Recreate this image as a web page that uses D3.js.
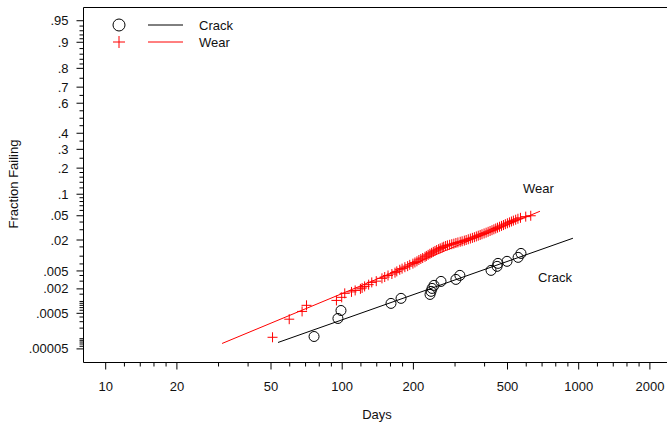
<!DOCTYPE html>
<html>
<head>
<meta charset="utf-8">
<script src="https://cdn.jsdelivr.net/npm/d3@7"></script>
<style>
  body { margin: 0; background: #fff; }
  svg { display: block; font-family: "Liberation Sans", Arial, sans-serif; }
  text { fill: #111; font-size: 13px; }
</style>
</head>
<body>
<svg id="chart" width="667" height="423"></svg>
<script>
// crack failures: [days, fraction failing]
const crackPoints = [
  [76.4, 0.000116], [96.4, 0.000366], [99.3, 0.000592], [161.6, 0.000895],
  [178.2, 0.00119], [236.3, 0.00148], [238.7, 0.00175], [241, 0.00205],
  [245.7, 0.00241], [263, 0.00296], [304, 0.00328], [316, 0.00402],
  [428, 0.00514], [454, 0.00624], [458, 0.00718], [500, 0.0079],
  [557, 0.00947], [573, 0.0113]
];

// wear failures: [days, fraction failing]
const wearPoints = [
  [51, 0.00011], [60, 0.00035], [68, 0.00056], [71, 0.0008], [95, 0.00106],
  [100, 0.00126], [103, 0.00157], [110, 0.0017], [114, 0.00184], [120, 0.002],
  [122, 0.0021], [125, 0.00228], [130, 0.0025], [134, 0.00281], [140, 0.003],
  [148, 0.00346], [152, 0.0037], [157, 0.004], [163, 0.0043], [168, 0.0046],
  [171, 0.0049], [176, 0.0053], [180, 0.0056], [185, 0.006], [190, 0.0063],
  [194, 0.0067], [200, 0.0071], [204, 0.0075], [208, 0.0079], [212, 0.0084],
  [216, 0.0088], [220, 0.0092], [225, 0.0097], [228, 0.0101], [232, 0.0106],
  [236, 0.0111], [240, 0.0116], [244, 0.0121], [248, 0.0126], [252, 0.0131],
  [257, 0.0136], [261, 0.0141], [266, 0.0146], [270, 0.0151], [275, 0.0156],
  [280, 0.016], [286, 0.0164], [292, 0.0168], [298, 0.0172], [304, 0.0177],
  [310, 0.0181], [317, 0.0186], [323, 0.019], [330, 0.0195], [336, 0.02],
  [343, 0.0206], [350, 0.0212], [357, 0.0218], [364, 0.0224], [371, 0.0231],
  [378, 0.0238], [385, 0.0245], [392, 0.0252], [400, 0.026], [408, 0.0268],
  [416, 0.0277], [424, 0.0286], [432, 0.0295], [440, 0.0305], [448, 0.0315],
  [456, 0.0325], [465, 0.0336], [474, 0.0347], [483, 0.0358], [492, 0.037],
  [502, 0.0382], [512, 0.0395], [522, 0.0408], [532, 0.0421], [544, 0.0435],
  [556, 0.045], [570, 0.0465], [600, 0.0485], [630, 0.05]
];

// fitted lognormal lines (end points)
const crackFit = [[53.8, 0.0000777], [950, 0.0215]];
const wearFit = [[31.2, 0.0000726], [689, 0.0583]];

const xTickValues = [10, 20, 50, 100, 200, 500, 1000, 2000];
const xMinorTicks = [12, 14, 16, 18, 30, 40, 60, 70, 80, 90, 120, 140, 160, 180,
  300, 400, 600, 700, 800, 900, 1200, 1400, 1600, 1800];

const yTickValues = [0.95, 0.9, 0.8, 0.7, 0.6, 0.4, 0.3, 0.2, 0.1, 0.05, 0.02,
  0.005, 0.002, 0.0005, 0.00005];
const yTickLabels = [".95", ".9", ".8", ".7", ".6", ".4", ".3", ".2", ".1", ".05", ".02",
  ".005", ".002", ".0005", ".00005"];
const yMinorTicks = [0.94, 0.93, 0.92, 0.91, 0.88, 0.86, 0.84, 0.82, 0.75, 0.65, 0.55,
  0.5, 0.45, 0.35, 0.25, 0.18, 0.16, 0.14, 0.12, 0.09, 0.08, 0.07, 0.06, 0.04, 0.03,
  0.015, 0.01, 0.007, 0.004, 0.003, 0.0015, 0.001, 0.0009, 0.0008, 0.0007, 0.0006,
  0.0004, 0.0003, 0.0002, 0.0001, 0.00009, 0.00008, 0.00007, 0.00006];

// inverse normal cdf (Acklam) for the probability axis
function probit(p) {
  const a = [-3.969683028665376e+01, 2.209460984245205e+02, -2.759285104469687e+02, 1.383577518672690e+02, -3.066479806614716e+01, 2.506628277459239e+00];
  const b = [-5.447609879822406e+01, 1.615858368580409e+02, -1.556989798598866e+02, 6.680131188771972e+01, -1.328068155288572e+01];
  const c = [-7.784894002430293e-03, -3.223964580411365e-01, -2.400758277161838e+00, -2.549671660199838e+00, 4.374664141464968e+00, 2.938163982698783e+00];
  const d = [7.784695709041462e-03, 3.224671290700398e-01, 2.445134137142996e+00, 3.754408661907416e+00];
  const pl = 0.02425;
  let q, r;
  if (p < pl) {
    q = Math.sqrt(-2 * Math.log(p));
    return (((((c[0]*q+c[1])*q+c[2])*q+c[3])*q+c[4])*q+c[5]) / ((((d[0]*q+d[1])*q+d[2])*q+d[3])*q+1);
  }
  if (p > 1 - pl) {
    q = Math.sqrt(-2 * Math.log(1 - p));
    return -(((((c[0]*q+c[1])*q+c[2])*q+c[3])*q+c[4])*q+c[5]) / ((((d[0]*q+d[1])*q+d[2])*q+d[3])*q+1);
  }
  q = p - 0.5; r = q * q;
  return (((((a[0]*r+a[1])*r+a[2])*r+a[3])*r+a[4])*r+a[5])*q / (((((b[0]*r+b[1])*r+b[2])*r+b[3])*r+b[4])*r+1);
}

const svg = d3.select("#chart");
const mLeft = 83.5, mTop = 7.5, mBottom = 362.5, mRight = 667;

const x = d3.scaleLog().domain([10, 1000]).range([105.2, 578.2]);
const zScale = d3.scaleLinear().domain([1.868, -4.12]).range([mTop, mBottom]);
const y = p => zScale(probit(p));

// frame
svg.append("path")
  .attr("d", `M${mRight},${mTop}H${mLeft}V${mBottom}H${mRight}`)
  .attr("fill", "none").attr("stroke", "#000");

// x axis
const xAxisG = svg.append("g").attr("transform", `translate(0,${mBottom})`);
xAxisG.call(d3.axisBottom(x).tickValues(xTickValues).tickSize(7).tickPadding(12)
  .tickFormat(d3.format("d")));
xAxisG.append("g").call(d3.axisBottom(x).tickValues(xMinorTicks).tickSize(4).tickFormat(""));
xAxisG.selectAll(".domain").remove();
xAxisG.selectAll("text").attr("font-size", 13).attr("fill", "#111")
  .attr("font-family", "Liberation Sans, Arial, sans-serif");

// y axis (probability scale)
const yAxisG = svg.append("g").attr("transform", `translate(${mLeft},0)`);
const yLabelMap = new Map(yTickValues.map((v, i) => [v, yTickLabels[i]]));
yAxisG.selectAll(".major").data(yTickValues).join("line").attr("class", "major")
  .attr("x1", -7).attr("x2", 0)
  .attr("y1", d => y(d)).attr("y2", d => y(d)).attr("stroke", "#000");
yAxisG.selectAll(".minor").data(yMinorTicks).join("line").attr("class", "minor")
  .attr("x1", -4).attr("x2", 0)
  .attr("y1", d => y(d)).attr("y2", d => y(d)).attr("stroke", "#000");
yAxisG.selectAll(".ylab").data(yTickValues).join("text").attr("class", "ylab")
  .attr("x", -15).attr("y", d => y(d)).attr("dy", "0.35em")
  .attr("text-anchor", "end").text(d => yLabelMap.get(d));

// axis titles
svg.append("text").attr("transform", "translate(18,184) rotate(-90)")
  .attr("text-anchor", "middle").text("Fraction Failing");
svg.append("text").attr("x", 377).attr("y", 419).attr("text-anchor", "middle").text("Days");

// fitted lines
const line = d3.line().x(d => x(d[0])).y(d => y(d[1]));
svg.append("path").datum(wearFit).attr("d", line).attr("stroke", "#ff0000").attr("fill", "none");
svg.append("path").datum(crackFit).attr("d", line).attr("stroke", "#000").attr("fill", "none");

// points
svg.append("g").selectAll("path").data(wearPoints).join("path")
  .attr("transform", d => `translate(${x(d[0])},${y(d[1])})`)
  .attr("d", "M-5,0H5M0,-5V5").attr("stroke", "#ff0000").attr("fill", "none");
svg.append("g").selectAll("circle").data(crackPoints).join("circle")
  .attr("cx", d => x(d[0])).attr("cy", d => y(d[1])).attr("r", 5)
  .attr("stroke", "#000").attr("fill", "none");

// annotations
svg.append("text").attr("x", 523).attr("y", 193).text("Wear");
svg.append("text").attr("x", 538).attr("y", 282).text("Crack");

// legend
const lg = svg.append("g");
lg.append("circle").attr("cx", 119).attr("cy", 25).attr("r", 6).attr("stroke", "#000").attr("fill", "none");
lg.append("line").attr("x1", 148).attr("x2", 183).attr("y1", 25).attr("y2", 25).attr("stroke", "#000");
lg.append("text").attr("x", 199).attr("y", 30).text("Crack");
lg.append("path").attr("transform", "translate(119,42)").attr("d", "M-6,0H6M0,-6V6").attr("stroke", "#ff0000");
lg.append("line").attr("x1", 148).attr("x2", 183).attr("y1", 42).attr("y2", 42).attr("stroke", "#ff0000");
lg.append("text").attr("x", 199).attr("y", 47).text("Wear");
</script>
</body>
</html>
